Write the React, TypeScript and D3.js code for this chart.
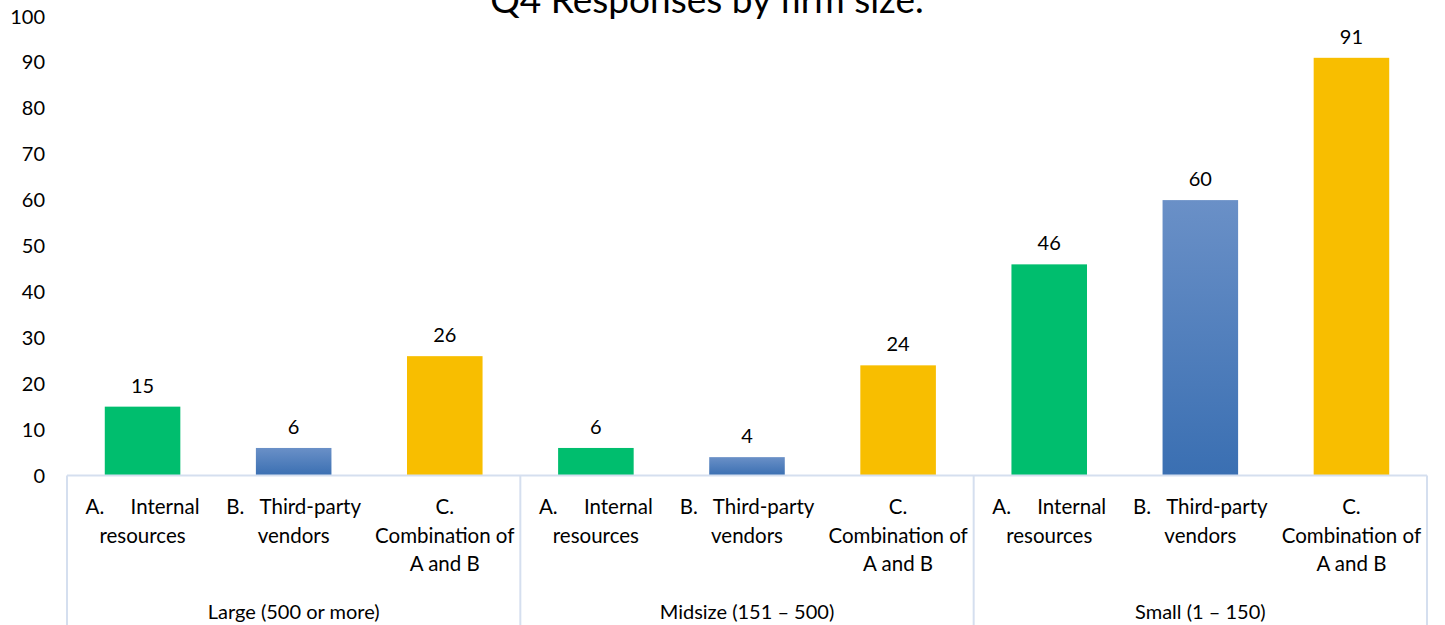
import React from "react";
import * as d3 from "d3";

const groups = ["Large (500 or more)", "Midsize (151 – 500)", "Small (1 – 150)"];
const categories = ["A", "B", "C"];
const categoryLines: string[][] = [
  ["A.     Internal", "resources"],
  ["B.   Third-party", "vendors"],
  ["C.", "Combination of", "A and B"],
];
const valuesA = [15, 6, 46];
const valuesB = [6, 4, 60];
const valuesC = [26, 24, 91];
const yTicks = [0, 10, 20, 30, 40, 50, 60, 70, 80, 90, 100];
const title = "Q4 Responses by firm size.";

const W = 1445;
const H = 625;
const FONT = "Lato, Carlito, Calibri, sans-serif";

export default function App() {
  const x0 = d3.scaleBand<string>().domain(groups).range([67, 1427]).padding(0);
  const x1 = d3
    .scaleBand<string>()
    .domain(categories)
    .range([0, x0.bandwidth()])
    .paddingInner(0.5)
    .paddingOuter(0.25);
  const y = d3.scaleLinear().domain([0, 100]).range([475.5, 16.5]);
  const series = [valuesA, valuesB, valuesC];
  const fills = ["#00BE6E", "url(#blueGrad)", "#F8BE00"];
  const axisColor = "#D5DFEF";

  return (
    <svg
      width={W}
      height={H}
      style={{ position: "absolute", left: 0, top: 0, background: "#fff" }}
      fontFamily={FONT}
    >
      <defs>
        <linearGradient id="blueGrad" x1="0" y1="0" x2="0" y2="1">
          <stop offset="0%" stopColor="#6A90C7" />
          <stop offset="100%" stopColor="#3A6FB2" />
        </linearGradient>
      </defs>
      <text x={707} y={13} textAnchor="middle" fontSize={37} fill="#000">
        {title}
      </text>
      {yTicks.map((t) => (
        <text
          key={t}
          x={45}
          y={y(t)}
          dy="0.35em"
          textAnchor="end"
          fontSize={20}
          fill="#000"
        >
          {t}
        </text>
      ))}
      {groups.map((g, gi) =>
        categories.map((c, ci) => {
          const v = series[ci][gi];
          const bx = (x0(g) as number) + (x1(c) as number);
          const bw = x1.bandwidth();
          return (
            <g key={g + c}>
              <rect x={bx} y={y(v)} width={bw} height={y(0) - y(v)} fill={fills[ci]} />
              <text
                x={bx + bw / 2}
                y={y(v) - 14}
                textAnchor="middle"
                fontSize={20}
                fill="#000"
              >
                {v}
              </text>
              <text
                x={bx + bw / 2}
                y={514}
                textAnchor="middle"
                fontSize={20.5}
                fill="#000"
                style={{ whiteSpace: "pre" }}
              >
                {categoryLines[ci].map((line, li) => (
                  <tspan key={li} x={bx + bw / 2} dy={li === 0 ? 0 : 28.5}>
                    {line}
                  </tspan>
                ))}
              </text>
            </g>
          );
        })
      )}
      <line x1={67} x2={1427} y1={475.5} y2={475.5} stroke={axisColor} strokeWidth={2} />
      {[...groups.map((g) => x0(g) as number), 1427].map((xx, i) => (
        <line key={i} x1={xx} x2={xx} y1={475.5} y2={H} stroke={axisColor} strokeWidth={2} />
      ))}
      {groups.map((g) => (
        <text
          key={g}
          x={(x0(g) as number) + x0.bandwidth() / 2}
          y={619}
          textAnchor="middle"
          fontSize={20}
          fill="#000"
        >
          {g}
        </text>
      ))}
    </svg>
  );
}
